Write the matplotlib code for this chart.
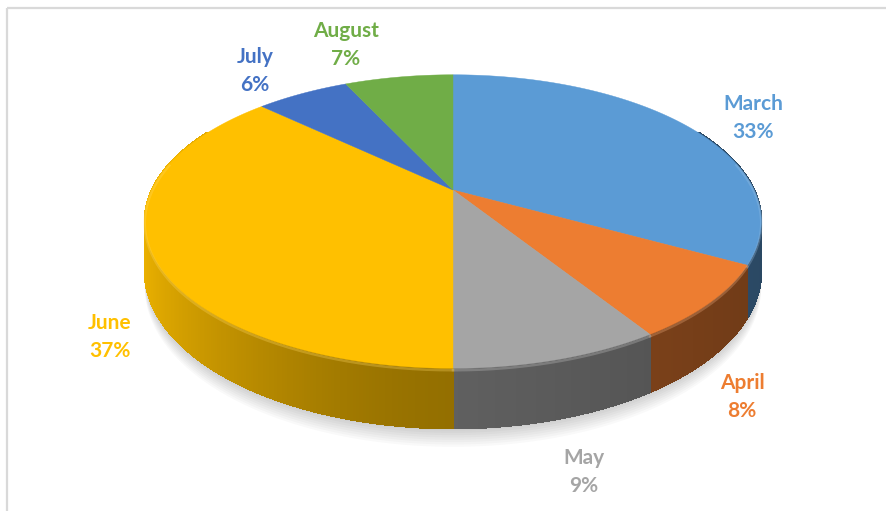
import numpy as np
import matplotlib.pyplot as plt
from matplotlib.collections import PolyCollection
from matplotlib.colors import to_rgb

# chart data
months = ["March", "April", "May", "June", "July", "August"]
shares = [33, 8, 9, 37, 6, 7]
colors = ["#5B9BD5", "#ED7D31", "#A5A5A5", "#FFC000", "#4472C4", "#70AD47"]

# where excel put the data labels (pixel coords)
label_xy = [(753, 118), (742, 397), (584, 472), (110, 337), (255, 71), (346, 45)]

# 3d look: centre, radius, tilt, perspective and thickness (pixels)
cx, cy = 453, 190
R = 301
C = 140
P = 0.215
H = 47


def project(theta, depth=0.0):
    # theta clockwise from 12 o'clock, y > 0 is the near side
    x = np.sin(theta)
    y = -np.cos(theta)
    w = 1 - P * y
    return cx + R * x / w, cy + (C * y + depth) / w


def shade(col, theta):
    s = np.sin(theta)
    if s > 0:
        f = 0.58 - 0.12 * s
    else:
        f = 0.58 + 0.36 * (-s) ** 1.5
    return tuple(np.clip(np.array(to_rgb(col)) * f, 0, 1))


fig = plt.figure(figsize=(8.86, 5.11), dpi=100)
ax = fig.add_axes([0, 0, 1, 1])
ax.set_xlim(0, 886)
ax.set_ylim(511, 0)
ax.axis("off")

# chart frame (only top and left edges are in the screenshot)
ax.plot([7, 886], [8, 8], color="#D9D9D9", lw=1.6, solid_capstyle="butt")
ax.plot([7, 7], [8, 511], color="#D9D9D9", lw=1.6, solid_capstyle="butt")

fractions = np.array(shares) / np.sum(shares)
edges = np.concatenate([[0], np.cumsum(fractions)]) * 2 * np.pi

# soft shadow under the pie
full = np.linspace(0, 2 * np.pi, 400)
for k in range(1, 9):
    bx, by = project(full, H + k * 1.2)
    ax.fill(bx, by + k * 0.8, color="black", alpha=0.025, lw=0)

# side wall, drawn far to near
quads, qcols, qdepth = [], [], []
for i in range(len(shares)):
    th = np.linspace(edges[i], edges[i + 1], max(3, int(fractions[i] * 720)))
    for a, b in zip(th[:-1], th[1:]):
        m = 0.5 * (a + b)
        if -np.cos(m) < -0.45:
            continue
        x1, y1 = project(a)
        x2, y2 = project(b)
        x3, y3 = project(b, H)
        x4, y4 = project(a, H)
        quads.append([(x1, y1), (x2, y2), (x3, y3), (x4, y4)])
        qcols.append(shade(colors[i], m))
        qdepth.append(-np.cos(m))
order = np.argsort(qdepth)
ax.add_collection(PolyCollection([quads[j] for j in order],
                                 facecolors=[qcols[j] for j in order],
                                 edgecolors=[qcols[j] for j in order],
                                 linewidths=1.0, antialiaseds=False))

# top faces
for i in range(len(shares)):
    th = np.linspace(edges[i], edges[i + 1], max(3, int(fractions[i] * 400)))
    px, py = project(th)
    ax.fill(np.concatenate([[cx], px]), np.concatenate([[cy], py]),
            color=colors[i], lw=0.3, ec=colors[i])

# light bevel along the near rim
for i in range(len(shares)):
    th = np.linspace(edges[i], edges[i + 1], 200)
    th = th[-np.cos(th) > -0.2]
    if len(th) < 2:
        continue
    px, py = project(th, 1.5)
    rim = tuple(0.6 * np.array(to_rgb(colors[i])) + 0.4)
    ax.plot(px, py, color=rim, lw=1.8, alpha=0.3)

# data labels
for i in range(len(months)):
    lx, ly = label_xy[i]
    ax.text(lx, ly, f"{months[i]}\n{shares[i]}%", color=colors[i],
            fontsize=15, fontweight="bold", family="Lato",
            ha="center", va="center", linespacing=1.5)

fig.savefig("out.png", dpi=100)
